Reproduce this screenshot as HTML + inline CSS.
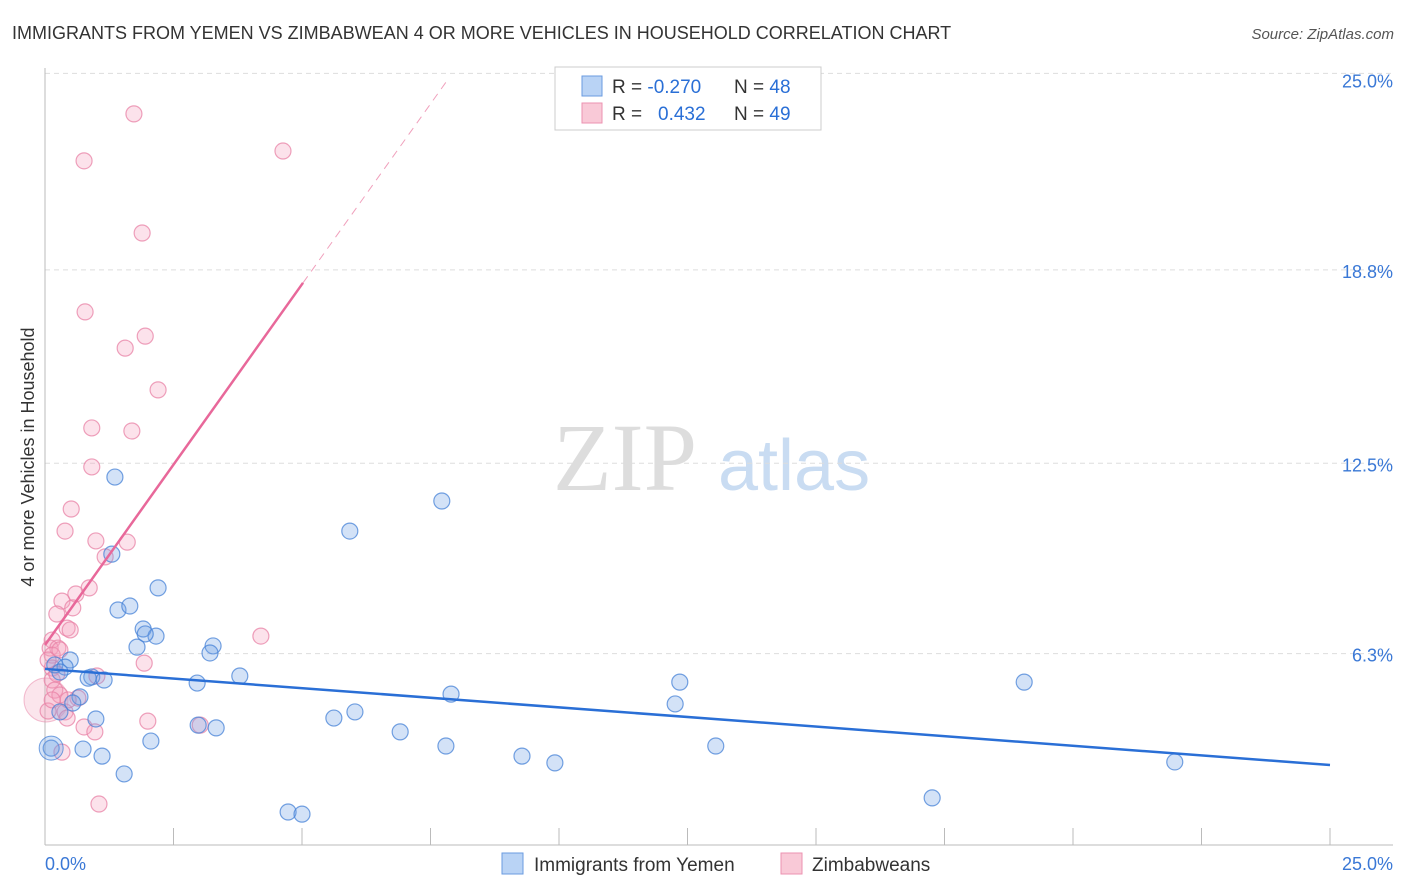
<!DOCTYPE html>
<html><head><meta charset="utf-8"><style>
body{margin:0;background:#fff;font-family:"Liberation Sans",sans-serif}
svg{display:block}
</style></head><body>
<svg id="chart" width="1406" height="892">
<text x="12" y="39" font-size="18" fill="#333">IMMIGRANTS FROM YEMEN VS ZIMBABWEAN 4 OR MORE VEHICLES IN HOUSEHOLD CORRELATION CHART</text>
<text x="1394" y="39" font-size="15" fill="#555" font-style="italic" text-anchor="end">Source: ZipAtlas.com</text>
<g>
<text x="553" y="490" font-size="96" font-family="Liberation Serif,serif" fill="#ddd">ZIP</text>
<text x="718" y="490" font-size="72" fill="#c9dcf2">atlas</text>
</g>
<g id="grid"></g>
<g id="axes"></g>
<g id="marks"></g>
<text transform="translate(34,457) rotate(-90)" font-size="18" fill="#333" text-anchor="middle">4 or more Vehicles in Household</text>
<g>
<rect x="555" y="67" width="266" height="63" fill="#fff" stroke="#ccc"/>
<rect x="582" y="76" width="20" height="20" fill="#b9d3f5" stroke="#6a9be0"/>
<rect x="582" y="103" width="20" height="20" fill="#f9c9d7" stroke="#ec92b0"/>
<text x="612" y="93" font-size="19" fill="#333">R = <tspan fill="#2a6fd6">-0.270</tspan><tspan x="734">N = </tspan><tspan fill="#2a6fd6">48</tspan></text>
<text x="612" y="120" font-size="19" fill="#333">R = <tspan x="658" fill="#2a6fd6">0.432</tspan><tspan x="734">N = </tspan><tspan fill="#2a6fd6">49</tspan></text>
</g>
<g>
<rect x="502" y="853" width="21" height="21" fill="#b9d3f5" stroke="#6a9be0"/>
<text x="534" y="871" font-size="19" fill="#333">Immigrants from Yemen</text>
<rect x="781" y="853" width="21" height="21" fill="#f9c9d7" stroke="#ec92b0"/>
<text x="812" y="871" font-size="19" fill="#333">Zimbabweans</text>
</g>
</svg>
<script>
const yemenX=[1.36,7.72,5.93,1.30,2.20,1.42,1.65,1.91,2.16,1.95,1.79,3.27,3.21,0.19,0.49,0.39,0.29,0.91,0.84,1.15,2.96,3.79,12.35,19.05,0.68,0.54,7.90,12.26,0.29,6.03,5.62,0.99,2.98,3.33,6.91,2.06,0.74,0.12,7.80,13.05,1.11,9.28,9.92,21.98,1.54,17.26,4.73,5.00];
const yemenY=[12.05,11.27,10.29,9.54,8.44,7.72,7.85,7.10,6.87,6.94,6.51,6.55,6.32,5.93,6.09,5.86,5.70,5.54,5.50,5.44,5.34,5.57,5.37,5.37,4.89,4.69,4.98,4.66,4.40,4.40,4.20,4.17,3.97,3.88,3.75,3.45,3.19,3.22,3.29,3.29,2.96,2.96,2.74,2.77,2.38,1.60,1.14,1.07];
const zimX=[1.73,0.76,4.63,1.89,0.78,1.95,1.56,2.20,0.91,1.69,0.91,0.51,0.39,0.99,1.60,1.17,0.86,0.60,0.33,0.54,0.23,0.43,0.49,4.20,0.14,0.10,0.25,0.14,1.93,0.14,1.01,0.14,0.19,0.29,0.64,0.06,0.39,0.43,2.00,3.02,0.76,0.97,0.33,1.05,0.14,0.23,0.45,0.06,0.29];
const zimY=[23.88,22.35,22.67,20.00,17.43,16.64,16.25,14.89,13.65,13.55,12.38,11.01,10.29,9.97,9.93,9.45,8.44,8.24,8.01,7.79,7.59,7.13,7.07,6.87,6.74,6.48,6.48,6.25,5.99,5.83,5.57,5.44,5.11,4.95,4.85,4.43,4.40,4.20,4.10,3.97,3.91,3.75,3.09,1.40,4.79,5.64,4.79,6.09,6.42];
const yTicks=[6.3,12.5,18.8,25.0];
const xTickLabels=["0.0%","25.0%"];
const yemenTrend=[5.80,2.67]; // y at x=0 and x=25
const zimTrend=[6.58,2.35]; // intercept, slope
const NS="http://www.w3.org/2000/svg";
const X=v=>45+v*51.4, Y=v=>847-v*30.7;
function mk(tag,attrs,parent){const e=document.createElementNS(NS,tag);for(const k in attrs)e.setAttribute(k,attrs[k]);parent.appendChild(e);return e;}
const grid=document.getElementById('grid'),axes=document.getElementById('axes'),marks=document.getElementById('marks');
yTicks.forEach(t=>{
 const l=mk('line',{x1:45,x2:1393,y1:Y(t===25?25.2:t),y2:Y(t===25?25.2:t),stroke:'#ddd','stroke-dasharray':'5,4'},grid);
 
 
 const tx=mk('text',{x:1393,y:Y(t)+8,'font-size':18,fill:'#3a78d6','text-anchor':'end'},axes);
 tx.textContent=t.toFixed(1)+'%';
 
 
});
mk('line',{x1:45,x2:45,y1:68,y2:845,stroke:'#bbb'},axes);
mk('line',{x1:45,x2:1393,y1:845,y2:845,stroke:'#bbb'},axes);
for(let i=0;i<=10;i++){const x=X(i*2.5);const t=mk('line',{x1:x,x2:x,y1:828,y2:845,stroke:'#bbb'},axes);}
const xl0=mk('text',{x:45,y:870,'font-size':18,fill:'#3a78d6'},axes);xl0.textContent=xTickLabels[0];


const xl1=mk('text',{x:1393,y:870,'font-size':18,fill:'#3a78d6','text-anchor':'end'},axes);xl1.textContent=xTickLabels[1];


// big circles
const bp=mk('circle',{cx:X(0.02),cy:Y(4.79),r:22,fill:'rgba(240,150,180,0.25)',stroke:'rgba(232,130,165,0.5)'},marks);


zimX.forEach((x,i)=>{const c=mk('circle',{cx:X(x),cy:Y(zimY[i]),r:8,fill:'rgba(245,160,190,0.3)',stroke:'rgba(232,130,165,0.75)','stroke-width':1.2},marks);
 
 });
yemenX.forEach((x,i)=>{const c=mk('circle',{cx:X(x),cy:Y(yemenY[i]),r:8,fill:'rgba(110,160,230,0.3)',stroke:'rgba(70,130,215,0.75)','stroke-width':1.2},marks);
 
 });
const bb=mk('circle',{cx:X(0.12),cy:Y(3.22),r:12,fill:'rgba(110,160,230,0.3)',stroke:'rgba(70,130,215,0.75)'},marks);


const yt=mk('line',{x1:X(0),y1:Y(yemenTrend[0]),x2:X(25),y2:Y(yemenTrend[1]),stroke:'#2a6fd6','stroke-width':2.5},marks);


const xs=5.02, xe=(25-zimTrend[0])/zimTrend[1];
const zt=mk('line',{x1:X(0),y1:Y(zimTrend[0]),x2:X(xs),y2:Y(zimTrend[0]+zimTrend[1]*xs),stroke:'#e8689a','stroke-width':2.5},marks);


const zd=mk('line',{x1:X(xs),y1:Y(zimTrend[0]+zimTrend[1]*xs),x2:X(xe),y2:Y(25),stroke:'#f0a0bc','stroke-width':1,'stroke-dasharray':'8,6'},marks);


</script>
</body></html>
